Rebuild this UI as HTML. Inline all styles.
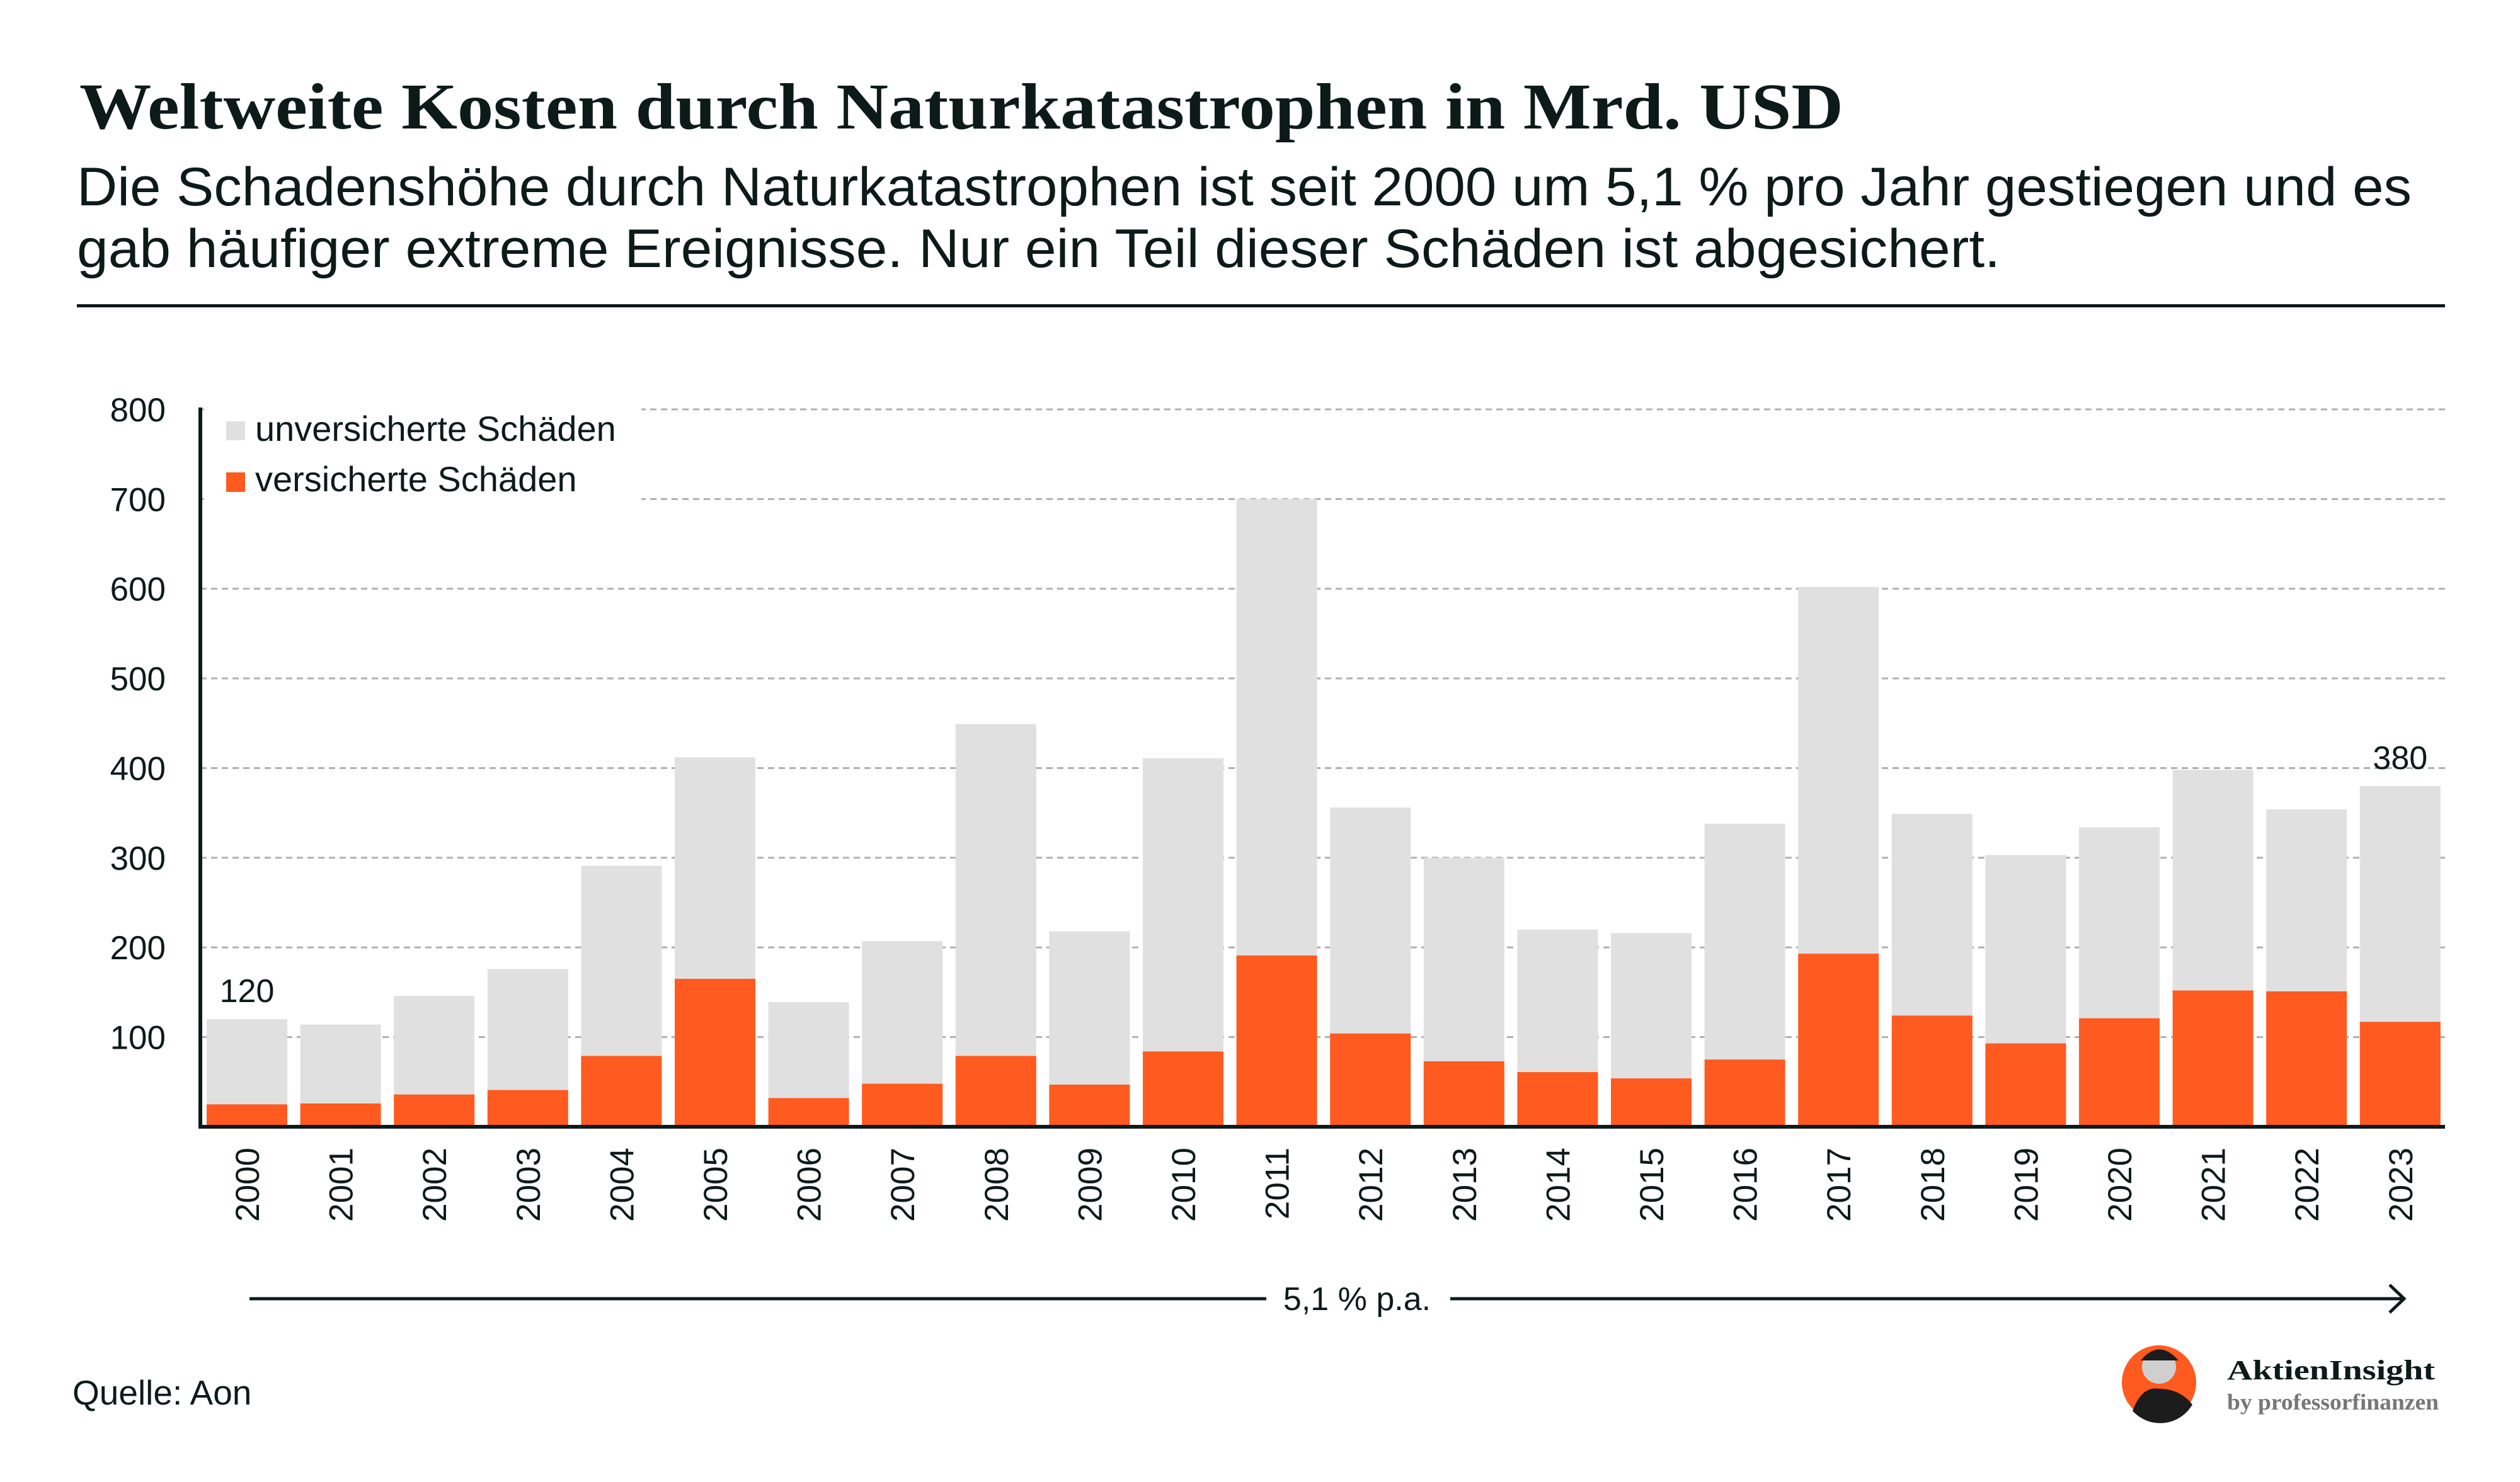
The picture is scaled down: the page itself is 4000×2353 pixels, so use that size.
<!DOCTYPE html>
<html><head><meta charset="utf-8"><style>
html,body{margin:0;padding:0;background:#fff;}
svg{display:block;}
text{font-family:"Liberation Sans",sans-serif;fill:#0d1a1a;}
</style></head><body>
<svg id="chart" width="4000" height="2353" viewBox="0 0 4000 2353" xmlns="http://www.w3.org/2000/svg">
<rect width="4000" height="2353" fill="#fff"/>
<text x="126" y="204" font-size="104" font-weight="bold" textLength="2800" lengthAdjust="spacingAndGlyphs" style="font-family:'Liberation Serif',serif">Weltweite Kosten durch Naturkatastrophen in Mrd. USD</text>
<text x="122" y="326" font-size="86" textLength="3706" lengthAdjust="spacingAndGlyphs">Die Schadenshöhe durch Naturkatastrophen ist seit 2000 um 5,1 % pro Jahr gestiegen und es</text>
<text x="122" y="424" font-size="86" textLength="3053" lengthAdjust="spacingAndGlyphs">gab häufiger extreme Ereignisse. Nur ein Teil dieser Schäden ist abgesichert.</text>
<rect x="122" y="483" width="3759" height="5" fill="#0d1a1a"/>
<g id="grid"></g>
<g id="bars"></g>
<rect x="324" y="640" width="694" height="170" fill="#fff"/>
<g>
<rect x="359" y="669" width="30" height="30" fill="#e0e0e0"/>
<text x="405" y="700" font-size="56">unversicherte Schäden</text>
<rect x="359" y="750" width="30" height="31" fill="#ff5a1f"/>
<text x="405" y="780" font-size="56">versicherte Schäden</text>
</g>
<g id="axes"></g>
<g>
<line x1="396" y1="2062" x2="2010" y2="2062" stroke="#0d1a1a" stroke-width="5"/>
<line x1="2302" y1="2062" x2="3815" y2="2062" stroke="#0d1a1a" stroke-width="5"/>
<polyline points="3793,2040 3816,2062 3793,2084" fill="none" stroke="#0d1a1a" stroke-width="5"/>
<text x="2154" y="2080" font-size="52" text-anchor="middle">5,1 % p.a.</text>
</g>
<text x="115" y="2230" font-size="55">Quelle: Aon</text>
<g>
<circle cx="3427" cy="2195" r="59" fill="#ff5a1f"/>
<path d="M3385,2240 Q3400,2200 3427,2205 Q3460,2205 3480,2230 A59,59 0 0 1 3385,2240 Z" fill="#1c1c1c"/>
<circle cx="3427" cy="2170" r="27" fill="#cfcfcf"/>
<path d="M3398,2160 Q3427,2125 3458,2160 Z" fill="#1c1c1c"/>
<text x="3535" y="2190" font-size="44" font-weight="bold" style="font-family:'Liberation Serif',serif" textLength="330" lengthAdjust="spacingAndGlyphs">AktienInsight</text>
<text x="3535" y="2238" font-size="36" font-weight="bold" fill="#777" style="font-family:'Liberation Serif',serif;fill:#777" textLength="336" lengthAdjust="spacingAndGlyphs">by professorfinanzen</text>
</g>
</svg>
<script>
const years = ["2000","2001","2002","2003","2004","2005","2006","2007","2008","2009","2010","2011","2012","2013","2014","2015","2016","2017","2018","2019","2020","2021","2022","2023"];
const totalLosses = [120,114,146,176,291,412,139,207,449,218,411,700,356,300,220,216,338,602,349,303,334,398,354,380];
const insuredLosses = [25,26,36,41,79,165,32,48,79,47,84,191,104,73,61,54,75,193,124,93,121,152,151,117];
const yTicks = [100,200,300,400,500,600,700,800];
const valueLabels = [{i:0,text:"120"},{i:23,text:"380"}];

const NS="http://www.w3.org/2000/svg";
const x0=328, pitch=148.6, bw=128, axisX=318, axisRight=3881;
const baseY=1789, perUnit=1.4238;
function yS(v){return baseY - v*perUnit;}
function xS(i){return x0 + i*pitch;}
function mk(tag,attrs,parent){const e=document.createElementNS(NS,tag);for(const k in attrs)e.setAttribute(k,attrs[k]);parent.appendChild(e);return e;}

const grid=document.getElementById('grid');
yTicks.forEach(t=>{
  const l=mk('line',{x1:axisX,x2:axisRight,y1:yS(t),y2:yS(t),stroke:'#b0b0b0','stroke-width':3,'stroke-dasharray':'10,7'},grid);
  
  
  const tx=mk('text',{x:263,y:yS(t)+19,'font-size':53,'text-anchor':'end'},grid);
  tx.textContent=t;
  
  
});

const bars=document.getElementById('bars');
years.forEach((yr,i)=>{
  const tot=totalLosses[i], ins=insuredLosses[i];
  const g=mk('rect',{x:xS(i),y:yS(tot),width:bw,height:yS(ins)-yS(tot),fill:'#e0e0e0'},bars);
  
  
  const o=mk('rect',{x:xS(i),y:yS(ins),width:bw,height:baseY-yS(ins),fill:'#ff5a1f'},bars);
  
  
  const cx=xS(i)+bw/2;
  const lb=mk('text',{x:cx+19,y:1822,'font-size':53,'text-anchor':'end',transform:'rotate(-90 '+(cx+19)+' 1822)'},bars);
  lb.textContent=yr;
  
  
});
valueLabels.forEach(v=>{
  const t=mk('text',{x:xS(v.i)+bw/2,y:yS(totalLosses[v.i])-27,'font-size':52,'text-anchor':'middle'},bars);
  t.textContent=v.text;
  
  
});

const axes=document.getElementById('axes');
const ya=mk('line',{x1:axisX,x2:axisX,y1:yS(800)-3,y2:baseY+3,stroke:'#0d1a1a','stroke-width':6},axes);


const xa=mk('line',{x1:axisX-3,x2:axisRight,y1:baseY,y2:baseY,stroke:'#0d1a1a','stroke-width':6},axes);


</script>
</body></html>
